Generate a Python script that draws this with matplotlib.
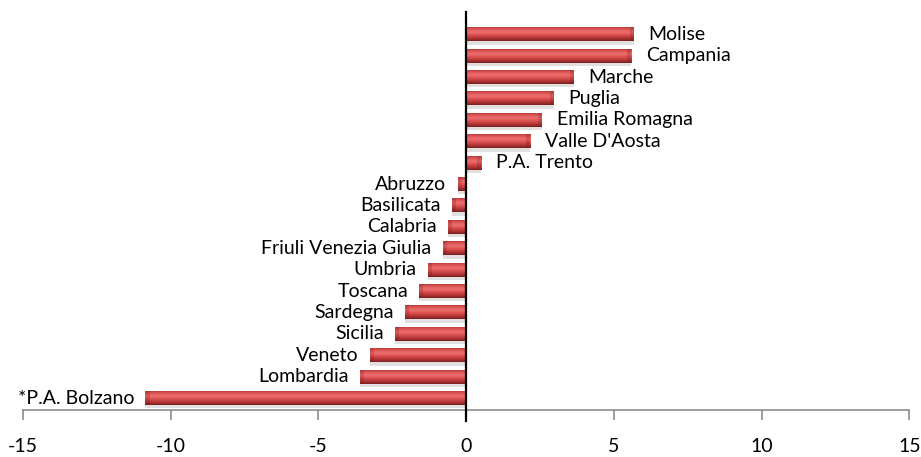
import numpy as np
import matplotlib.pyplot as plt
from matplotlib.colors import LinearSegmentedColormap

# regional change, bottom to top as drawn
regions = ['*P.A. Bolzano', 'Lombardia', 'Veneto', 'Sicilia', 'Sardegna',
           'Toscana', 'Umbria', 'Friuli Venezia Giulia', 'Calabria',
           'Basilicata', 'Abruzzo', 'P.A. Trento', "Valle D'Aosta",
           'Emilia Romagna', 'Puglia', 'Marche', 'Campania', 'Molise']
values = [-10.85, -3.58, -3.24, -2.40, -2.06,
          -1.58, -1.30, -0.79, -0.62,
          -0.48, -0.28, 0.51, 2.18,
          2.57, 2.97, 3.65, 5.59, 5.68]
xticks = [-15, -10, -5, 0, 5, 10, 15]

plt.rcParams['font.family'] = ['Lato', 'DejaVu Sans']

fig = plt.figure(figsize=(9.21, 4.57), dpi=100)
ax = fig.add_axes([0.0247, 0.1028, 0.9626, 0.871])

y = np.arange(len(regions))
bars = ax.barh(y, values, height=0.66, color='#d04545', linewidth=0, zorder=3)

# cylinder-like shading: vertical gradient clipped to each bar
shade = LinearSegmentedColormap.from_list('shade', [
    (0.00, '#7a1e1e'), (0.15, '#a83030'), (0.38, '#d84c4c'),
    (0.60, '#ee7070'), (0.75, '#e25c5c'), (0.90, '#c84444'), (1.00, '#a53131')])
grad = np.linspace(0, 1, 64).reshape(-1, 1)
for b in bars:
    x0, y0 = b.get_x(), b.get_y()
    w, h = b.get_width(), b.get_height()
    im = ax.imshow(grad, cmap=shade, aspect='auto', origin='lower',
                   extent=[x0, x0 + w, y0, y0 + h], zorder=4, interpolation='bilinear')
    im.set_clip_path(b)
    # darker rounded end
    end = x0 + w
    cap = 0.14 if w > 0 else -0.14
    ax.add_patch(plt.Rectangle((end - cap, y0), cap, h, color='#6e1a1a', alpha=0.22,
                               linewidth=0, zorder=5))
    # soft shadow under the bar
    ax.add_patch(plt.Rectangle((x0, y0 - 0.15), w, 0.15, color='#9a9a9a', alpha=0.3,
                               linewidth=0, zorder=2))

# value-side labels
for yi, v, name in zip(y, values, regions):
    if v >= 0:
        ax.text(v + 0.5, yi, name, ha='left', va='center', fontsize=14, zorder=6)
    else:
        ax.text(v - 0.38, yi, name, ha='right', va='center', fontsize=14, zorder=6)

ax.set_xlim(-15, 15)
ax.set_ylim(-0.56, 18.04)
ax.set_xticks(xticks)
ax.set_xticklabels([str(t) for t in xticks], fontsize=14)
ax.set_yticks([])

for side in ['top', 'right', 'left']:
    ax.spines[side].set_visible(False)
ax.spines['bottom'].set_color('#8c8c8c')
ax.spines['bottom'].set_linewidth(1.2)
ax.tick_params(axis='x', direction='out', length=7, width=1.2, color='#8c8c8c', pad=13)

# zero line running a little past the axis
ax.axvline(0, ymin=-0.028, ymax=1, color='black', linewidth=1.6, clip_on=False, zorder=7)

fig.savefig('out.png', dpi=100)
